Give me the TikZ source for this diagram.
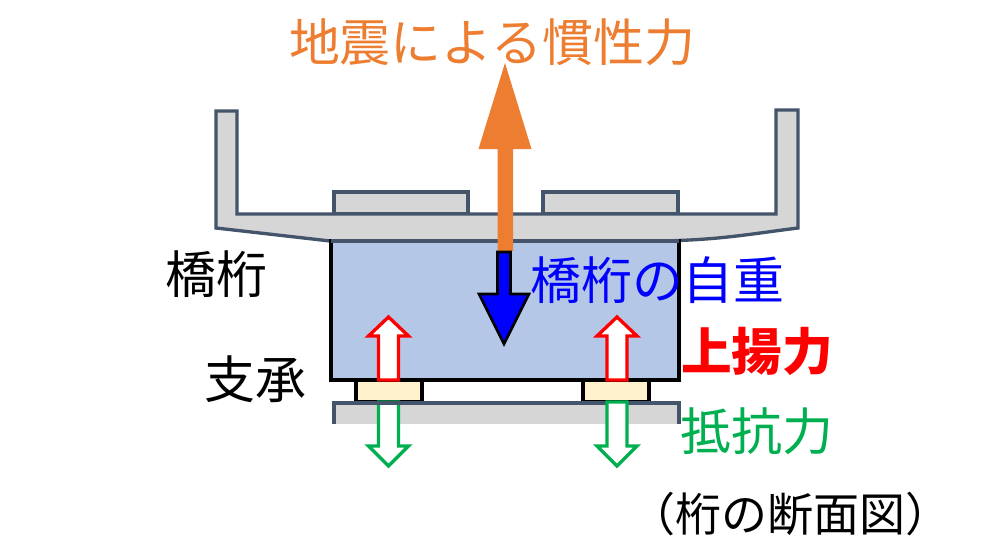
\documentclass[tikz,border=0pt]{standalone}
\usepackage{fontspec}
\newfontfamily\jp{Noto Sans CJK JP}
\definecolor{deckfill}{HTML}{D6D6D6}
\definecolor{deckline}{HTML}{44546A}
\definecolor{girderfill}{HTML}{B4C7E7}
\definecolor{bearingfill}{HTML}{FFF2CC}
\definecolor{orangeA}{HTML}{ED7D31}
\definecolor{greenA}{HTML}{00B050}
\tikzset{
  x=0.75pt,y=-0.75pt,
  deckshape/.style={draw=deckline,fill=deckfill,line width=2.5pt,line join=miter},
  deckedge/.style={draw=deckline,line width=2.5pt,line join=miter},
  girder/.style={draw=black,fill=girderfill,line width=2.3pt},
  bearing/.style={draw=black,fill=bearingfill,line width=2.3pt},
  uparrow/.style={draw=red,fill=white,line width=2.5pt,line join=miter},
  downarrow/.style={draw=greenA,fill=white,line width=2.5pt,line join=miter},
  label/.style={font=\jp\fontsize{38.2}{40}\selectfont,inner sep=0pt,anchor=center},
  boldlabel/.style={font=\jp\bfseries\fontsize{38}{40}\selectfont,inner sep=0pt,anchor=center},
  smalllabel/.style={font=\jp\fontsize{34.5}{38}\selectfont,inner sep=0pt,anchor=center},
}
\begin{document}
\begin{tikzpicture}
\useasboundingbox (0,0) rectangle (1000,560);
% deck slab and raised pads
\path[deckshape] (334,214) rectangle (468,192);
\path[deckshape] (543,214) rectangle (678,192);
\path[deckshape] (216,111) -- (237,111) -- (237,214) -- (776,214) -- (776,110) -- (798,110) -- (798,228)
  .. controls (750,234) and (720,240) .. (660,241) -- (330,241) -- (216,228) -- cycle;
% girder
\path[girder] (331,241) rectangle (679,380);
\draw[deckedge] (331,241) -- (679,241);
% bearings
\path[bearing] (356,380) rectangle (422,402);
\path[bearing] (583,380) rectangle (649,402);
% base plate
\fill[deckfill] (334,403) rectangle (679,424);
% left resistance arrow under the plate edge
\path[downarrow] (378.5,402) -- (378.5,446) -- (368.5,446) -- (388.5,466) -- (408.5,446) -- (398.5,446) -- (398.5,402) -- cycle;
\draw[deckedge] (334,424) -- (334,403) -- (679,403) -- (679,424);
% right resistance arrow over the plate edge
\path[downarrow] (607,402) -- (607,446) -- (597,446) -- (617,466) -- (637,446) -- (627,446) -- (627,402) -- cycle;
% uplift arrows
\foreach \c in {388.5,617}{
  \path[uparrow] (\c-10,380) -- (\c-10,336) -- (\c-20,336) -- (\c,317) -- (\c+20,336) -- (\c+10,336) -- (\c+10,380) -- cycle;
}
% inertia arrow
\fill[orangeA] (497.5,251) -- (497.5,149) -- (478.5,149) -- (505,63) -- (531.5,149) -- (513,149) -- (513,251) -- cycle;
% self-weight arrow
\filldraw[fill=blue,draw=black,line width=2pt,line join=miter] (497.5,252) -- (497.5,294) -- (479,294) -- (504,344) -- (529,294) -- (510.5,294) -- (510.5,252) -- cycle;
% texts
\node[label,text=orangeA] (t1) at (492,42) {地震による慣性力};
\node[label,text=black] (t2) at (216,274) {橋桁};
\node[label,text=blue] (t3) at (657.5,280) {橋桁の自重};
\node[label,text=black] (t4) at (255,379) {支承};
\node[boldlabel,text=red] (t5) at (757,351) {上揚力};
\node[label,text=greenA] (t6) at (757,431) {抵抗力};
\node[smalllabel,text=black] (t7) at (790,514) {（桁の断面図）};
\end{tikzpicture}
\end{document}
